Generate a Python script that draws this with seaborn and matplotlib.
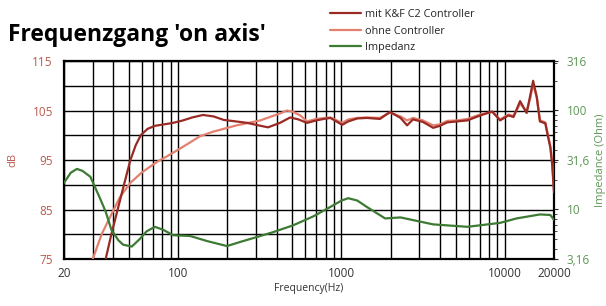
import matplotlib
matplotlib.use("Agg")
import matplotlib.pyplot as plt
import matplotlib.ticker as mticker
import numpy as np
import pandas as pd
import seaborn as sns

# --------------------------------------
# data
# --------------------------------------
freq_kf = [36, 39, 43, 47, 51, 55, 59, 65, 72, 82, 93, 107, 122, 142, 165, 190, 225, 265, 310, 355,
           420, 485, 545, 615, 700, 780, 855, 930, 1010, 1100, 1250, 1430, 1720, 1980, 2300, 2520, 2740,
           3150, 3640, 4000, 4440, 5100, 5900, 7070, 8370, 9350, 10500, 11300, 12400, 13600, 14300,
           14900, 15700, 16400, 17700, 18300, 19000, 19500, 20000]
db_kf = [75, 80, 85.5, 90.5, 95, 98, 100, 101.3, 101.9, 102.2, 102.5, 103, 103.6, 104.1, 103.8, 103.1,
         102.8, 102.5, 102, 101.6, 102.5, 103.6, 103.2, 102.5, 103, 103.3, 103.5, 102.8, 102.1, 102.8,
         103.4, 103.5, 103.3, 104.7, 103.5, 102, 103.2, 102.7, 101.5, 101.9, 102.6, 102.8, 103, 104,
         104.8, 103, 104, 103.7, 106.9, 104.5, 108, 111, 107.7, 102.8, 102.4, 100, 97.5, 94, 88.5]

freq_oc = [30, 34, 39, 44, 51, 60, 74, 86, 99, 115, 136, 163, 195, 228, 318, 365, 420, 463, 500, 560,
           615, 700, 855, 1010, 1100, 1250, 1430, 1720, 1980, 2300, 2520, 2740, 3150, 3640, 4000, 4440,
           5100, 5900, 7070, 8370, 9350, 10500, 11300, 12400, 13600, 14300, 14900, 15700, 16400, 17700,
           18300, 19000, 19500, 20000]
db_oc = [75, 80, 84, 87.5, 90.4, 92.5, 94.6, 95.8, 97, 98.3, 99.8, 100.7, 101.4, 102, 103, 103.7, 104.4,
         105, 104.8, 104, 102.8, 103.3, 103.6, 102.5, 103.2, 103.5, 103.6, 103.5, 104.6, 103.8, 103,
         103.5, 103, 102, 102.2, 102.9, 103, 103.3, 104.2, 104.7, 103.2, 104.2, 103.9, 106.4, 104.8,
         107.5, 110.3, 107.5, 103, 102.6, 100.3, 97.8, 94.5, 89]

freq_imp = [20, 22, 24, 26, 29, 33, 36, 39, 43, 46, 52, 58, 64, 72, 81, 93, 118, 123, 150, 199, 240,
            287, 380, 506, 670, 854, 1000, 1100, 1250, 1430, 1850, 2300, 3640, 5900, 9350, 11800, 16400,
            19000, 20000]
ohm_imp = [18.6, 23.5, 25.7, 24.5, 21.4, 13.3, 9.5, 6.24, 4.9, 4.41, 4.22, 5.0, 6.0, 6.68, 6.24, 5.49,
           5.4, 5.3, 4.8, 4.27, 4.7, 5.13, 5.89, 6.92, 8.5, 10.6, 12.3, 13.0, 12.3, 10.6, 8.12, 8.31,
           7.07, 6.68, 7.32, 8.12, 8.91, 8.8, 7.85]

x_ticks = [20, 100, 1000, 10000, 20000]
db_ticks = [75, 85, 95, 105, 115]
ohm_ticks = [3.16, 10, 31.6, 100, 316]
ohm_labels = ["3,16", "10", "31,6", "100", "316"]

C_KF = "#9a2b24"
C_OC = "#e3806f"
C_IMP = "#3d7a33"
C_LEFT = "#b85a50"
C_RIGHT = "#5e9656"

sns.set_style("white")
plt.rcParams["font.family"] = ["Open Sans", "DejaVu Sans"]

fig = plt.figure(figsize=(6.06, 3.06), dpi=100)
ax = fig.add_axes([0.1056, 0.1536, 0.8086, 0.647])

df_kf = pd.DataFrame({"f": freq_kf, "db": db_kf})
df_oc = pd.DataFrame({"f": freq_oc, "db": db_oc})
df_imp = pd.DataFrame({"f": freq_imp, "ohm": ohm_imp})

sns.lineplot(data=df_oc, x="f", y="db", ax=ax, color=C_OC, lw=1.6, label="ohne Controller", zorder=3)
sns.lineplot(data=df_kf, x="f", y="db", ax=ax, color=C_KF, lw=1.6, label="mit K&F C2 Controller", zorder=4)

ax.set_xscale("log")
ax.set_xlim(20, 20000)
ax.set_ylim(75, 115)
ax.set_xticks(x_ticks)
ax.set_xticklabels([str(t) for t in x_ticks])
ax.xaxis.set_minor_locator(mticker.LogLocator(subs=np.arange(2, 10)))
ax.xaxis.set_minor_formatter(mticker.NullFormatter())
ax.set_yticks(db_ticks)
ax.yaxis.set_minor_locator(mticker.MultipleLocator(5))
ax.grid(True, which="both", axis="x", color="black", lw=1.0)
ax.grid(True, which="both", axis="y", color="black", lw=1.0)
ax.tick_params(axis="x", which="both", length=0, labelsize=8.5, colors="#333333", pad=6)
ax.tick_params(axis="y", which="major", length=0, labelsize=8.5, labelcolor=C_LEFT, pad=8)
ax.tick_params(axis="y", which="minor", length=0)
for s in ax.spines.values():
    s.set_color("black")
    s.set_linewidth(1.6)
ax.set_xlabel("Frequency(Hz)", fontsize=7.5, color="#333333", labelpad=2)
ax.set_ylabel("dB", fontsize=8, color=C_LEFT, labelpad=10)

ax2 = ax.twinx()
sns.lineplot(data=df_imp, x="f", y="ohm", ax=ax2, color=C_IMP, lw=1.6, label="Impedanz")
ax2.set_yscale("log")
ax2.set_ylim(3.16, 316)
ax2.set_yticks(ohm_ticks)
ax2.set_yticklabels(ohm_labels)
ax2.yaxis.set_minor_formatter(mticker.NullFormatter())
ax2.tick_params(axis="y", which="major", length=3, direction="out", labelsize=8.5, labelcolor=C_RIGHT, pad=6)
ax2.tick_params(axis="y", which="minor", length=2, direction="out")
ax2.set_ylabel("Impedance (Ohm)", fontsize=8, color=C_RIGHT, labelpad=4)
ax2.grid(False)
for s in ax2.spines.values():
    s.set_visible(False)

h1, l1 = ax.get_legend_handles_labels()
h2, l2 = ax2.get_legend_handles_labels()
ax.get_legend().remove()
ax2.get_legend().remove()
order = [1, 0]
fig.legend([h1[i] for i in order] + h2, [l1[i] for i in order] + l2,
           loc="upper left", bbox_to_anchor=(0.532, 0.995), frameon=False, fontsize=7.8,
           handlelength=2.9, handletextpad=0.3, labelspacing=0.5, borderaxespad=0.3)

fig.text(0.013, 0.865, "Frequenzgang 'on axis'", fontsize=16.5, fontweight="bold", color="black")

fig.savefig("out.png", dpi=100)
